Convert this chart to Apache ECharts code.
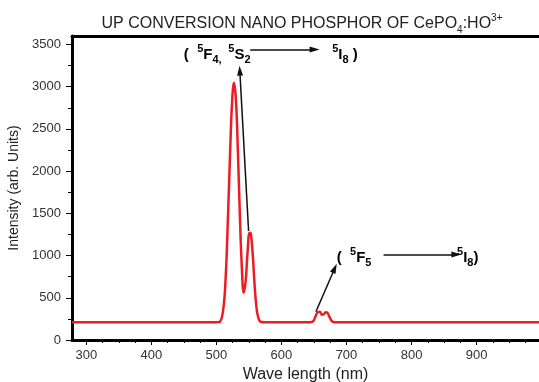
<!DOCTYPE html>
<html>
<head>
<meta charset="utf-8">
<script src="https://cdn.jsdelivr.net/npm/echarts@6/dist/echarts.min.js"></script>
<style>
  html, body { margin: 0; padding: 0; background: #fff; }
  #chart { width: 539px; height: 382px; }
</style>
</head>
<body>
<div id="chart"></div>
<script>
// emission spectrum
const wavelength = [278, 500, 505, 510, 514, 518, 521, 524, 527, 530, 533, 536, 539, 542, 545, 548, 551, 553, 556, 559, 562, 565, 569, 575,
  645, 649, 653, 656, 659, 662, 665, 668, 671, 674, 678, 682, 996];
const intensity = [210, 210, 215, 330, 700, 1500, 2200, 2800, 3045, 2850, 2250, 1500, 880, 560, 700, 1050, 1270, 1260, 1000, 620, 360, 250, 212, 210,
  210, 225, 290, 330, 335, 300, 305, 330, 320, 270, 220, 210, 210];

const xMajor = [300, 400, 500, 600, 700, 800, 900];
const xMinor = [];
for (let v = 300; v <= 975; v += 25) if (v % 100 !== 0) xMinor.push(v);
const yMajor = [0, 500, 1000, 1500, 2000, 2500, 3000, 3500];
const yMinor = [250, 750, 1250, 1750, 2250, 2750, 3250];

// arrows [from, to] in data units
const arrows = [
  [[549.5, 1290], [536, 3190]],
  [[552, 3440], [651, 3440]],
  [[653, 335], [682, 850]],
  [[757, 1012], [869, 1012]]
];

const chart = echarts.init(document.getElementById("chart"));
const font = "Liberation Sans, Arial, sans-serif";

const xBase = {
  type: "value", min: 278, max: 996, gridIndex: 0,
  splitLine: { show: false }
};
const yBase = {
  type: "value", min: 0, max: 3600, gridIndex: 0,
  splitLine: { show: false }
};

chart.setOption({
  animation: false,
  title: {
    text: "UP CONVERSION NANO PHOSPHOR OF CePO{sub|4}:HO{sup|3+}",
    left: 297, top: 8, textAlign: "center",
    textStyle: {
      fontFamily: font, fontSize: 16, fontWeight: "normal", color: "#222",
      rich: {
        sub: { fontSize: 10, fontFamily: font, color: "#222", verticalAlign: "bottom", lineHeight: 22 },
        sup: { fontSize: 10, fontFamily: font, color: "#222", verticalAlign: "top", lineHeight: 22 }
      }
    }
  },
  grid: { left: 72, top: 36, right: 0, bottom: 42, outerBoundsMode: "none" },
  xAxis: [
    Object.assign({}, xBase, {
      position: "bottom",
      name: "Wave length (nm)", nameLocation: "middle", nameGap: 24,
      nameTextStyle: { fontFamily: font, fontSize: 16, color: "#222" },
      axisLine: { lineStyle: { color: "#000", width: 3 } },
      axisTick: { show: true, length: 5, customValues: xMajor, lineStyle: { color: "#000", width: 1 } },
      axisLabel: { customValues: xMajor, margin: 9, fontFamily: font, fontSize: 13, color: "#333",
        formatter: v => String(v) }
    }),
    Object.assign({}, xBase, {
      position: "bottom",
      axisLine: { show: false },
      axisTick: { show: true, length: 3, customValues: xMinor, lineStyle: { color: "#000", width: 1 } },
      axisLabel: { show: false }
    }),
    Object.assign({}, xBase, {
      position: "top",
      axisLine: { lineStyle: { color: "#000", width: 3 } },
      axisTick: { show: false },
      axisLabel: { show: false }
    })
  ],
  yAxis: [
    Object.assign({}, yBase, {
      position: "left",
      name: "Intensity (arb. Units)", nameLocation: "middle", nameGap: 43,
      nameTextStyle: { fontFamily: font, fontSize: 14, color: "#222" },
      axisLine: { lineStyle: { color: "#000", width: 3 } },
      axisTick: { show: true, length: 6, customValues: yMajor, lineStyle: { color: "#000", width: 1 } },
      axisLabel: { customValues: yMajor, margin: 11, fontFamily: font, fontSize: 13, color: "#333",
        formatter: v => String(v) }
    }),
    Object.assign({}, yBase, {
      position: "left",
      axisLine: { show: false },
      axisTick: { show: true, length: 4, customValues: yMinor, lineStyle: { color: "#000", width: 1 } },
      axisLabel: { show: false }
    })
  ],
  series: [{
    type: "line",
    xAxisIndex: 0, yAxisIndex: 0,
    data: wavelength.map((w, i) => [w, intensity[i]]),
    smooth: 0.4,
    showSymbol: false,
    lineStyle: { color: "#ec1c24", width: 2.5 },
    markLine: {
      silent: true,
      symbol: ["none", "triangle"],
      symbolSize: [6, 10],
      label: { show: false },
      lineStyle: { color: "#111", width: 1.5, type: "solid" },
      data: arrows.map(a => [{ coord: a[0] }, { coord: a[1] }])
    }
  }]
});

// level labels, anchored in data units
const bold = { fontFamily: font, fontSize: 15, fontWeight: "bold", color: "#111" };
const small = { fontFamily: font, fontSize: 11, fontWeight: "bold", color: "#111" };
const rich = {
  b: bold,
  sup: Object.assign({}, small, { verticalAlign: "top", lineHeight: 22 }),
  sub: Object.assign({}, small, { verticalAlign: "bottom", lineHeight: 22 })
};
const labels = [
  [[450, 3380], "{b|(  }{sup|5}{b|F}{sub|4,}  {sup|5}{b|S}{sub|2}"],
  [[678, 3380], "{sup|5}{b|I}{sub|8}{b| )}"],
  [[685, 976], "{b|(  }{sup|5}{b|F}{sub|5}"],
  [[870, 976], "{sup|5}{b|I}{sub|8}{b|)}"]
];
chart.setOption({
  graphic: labels.map(l => {
    const p = chart.convertToPixel({ xAxisIndex: 0, yAxisIndex: 0 }, l[0]);
    return {
      type: "text", x: p[0], y: p[1],
      style: { text: l[1], rich: rich, verticalAlign: "middle", align: "left", lineHeight: 22 }
    };
  })
});
</script>
</body>
</html>
